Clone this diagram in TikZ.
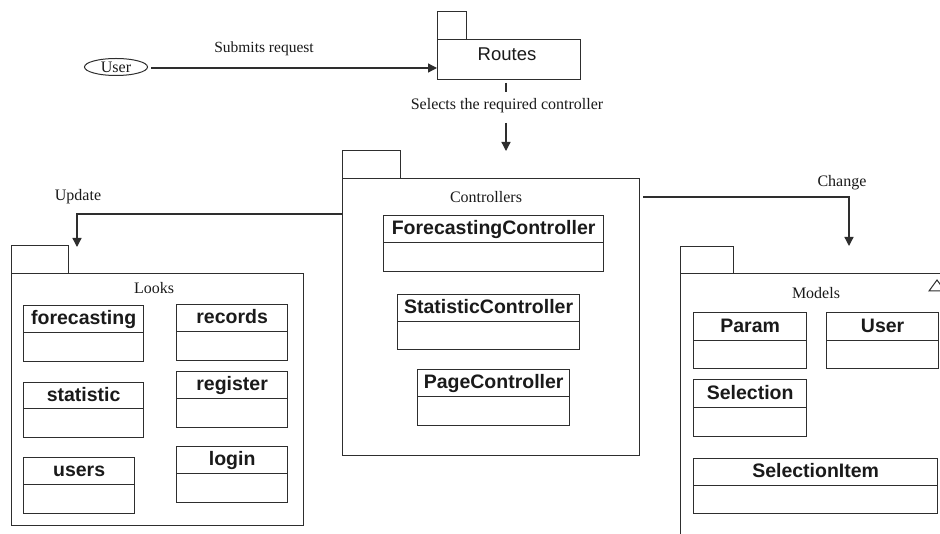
\documentclass[tikz,border=0pt]{standalone}
\usepackage{fontspec}
\setmainfont{Liberation Serif}
\newfontfamily\arialfont{Liberation Sans}
\usetikzlibrary{arrows.meta,shapes.geometric}
\definecolor{lc}{HTML}{2E2E2E}
\definecolor{tc}{HTML}{1A1A1A}
\tikzset{
  ln/.style={draw=lc, line width=1.3pt},
  arr/.style={ln, -{Triangle[width=9pt,length=9pt]}},
  lbl/.style={font=\fontsize{16}{18}\selectfont, text=tc, inner sep=0pt},
  clshead/.style={ln, rectangle, inner sep=0pt, text height=14pt, text depth=3pt,
    font=\arialfont\bfseries\fontsize{19.5}{21}\selectfont, text=tc},
  clsbody/.style={ln, rectangle, inner sep=0pt},
  pkgpart/.style={ln, rectangle, inner sep=0pt},
}
% id, label, x1, x2, ytop, ydiv, ybot
\newcommand\umlcls[7]{%
  \node[clshead, anchor=north west, minimum width={(#4-#3)*1pt}, minimum height={(#6-#5)*1pt}] (#1) at (#3,-#5) {#2};
  \node[clsbody, anchor=north west, minimum width={(#4-#3)*1pt}, minimum height={(#7-#6)*1pt}] (#1-b) at (#3,-#6) {};
}
% id, x1, tabright, tabtop, bodytop, x2, ybot
\newcommand\umlpkg[7]{%
  \node[pkgpart, anchor=north west, minimum width={(#3-#2)*1pt}, minimum height={(#5-#4)*1pt}] (#1-tab) at (#2,-#4) {};
  \node[pkgpart, anchor=north west, minimum width={(#6-#2)*1pt}, minimum height={(#7-#5)*1pt}] (#1) at (#2,-#5) {};
}
\begin{document}
\begin{tikzpicture}[x=1pt,y=1pt]
\clip (0,0) rectangle (940,-534);
\fill[white] (0,0) rectangle (940,-534);

% User
\node[ln, line width=1pt, ellipse, minimum width=63pt, minimum height=17pt, inner sep=0pt] (user) at (116,-67) {};
\node[lbl] (usert) at (116,-67) {User};

% Routes package
\umlpkg{routes}{437}{466}{11}{39}{580}{79}
\node[inner sep=0pt, font=\arialfont\fontsize{18.5}{20}\selectfont, text=tc] (routest) at (507,-54) {Routes};

% Controllers package
\umlpkg{ctrl}{342}{400}{150}{178}{639}{455}
\node[lbl] (ctrlt) at (486,-197) {Controllers};
\umlcls{fc}{ForecastingController}{383}{603}{215}{242}{271}
\umlcls{sc}{StatisticController}{397}{579}{294}{321}{349}
\umlcls{pc}{PageController}{417}{569}{369}{396}{425}

% Looks package
\umlpkg{looks}{11}{68}{245}{273}{303}{525}
\node[lbl] (lookst) at (154,-288) {Looks};
\umlcls{forecasting}{forecasting}{23}{143}{305}{332}{361}
\umlcls{records}{records}{176}{287}{304}{331}{360}
\umlcls{statistic}{statistic}{23}{143}{382}{408}{437}
\umlcls{register}{register}{176}{287}{371}{398}{427}
\umlcls{users}{users}{23}{134}{457}{484}{513}
\umlcls{login}{login}{176}{287}{446}{473}{502}

% Models package (cut off at right and bottom)
\umlpkg{models}{680}{733}{246}{273}{970}{570}
\node[lbl] (modelst) at (816,-293) {Models};
\draw[ln, line width=1pt] (929,-291) -- (937,-280) -- (945,-291) -- cycle;
\umlcls{param}{Param}{693}{806}{312}{340}{368}
\umlcls{muser}{User}{826}{938}{312}{340}{368}
\umlcls{selection}{Selection}{693}{806}{379}{407}{436}
\umlcls{selitem}{SelectionItem}{693}{937}{458}{485}{513}

% coordinates for connectors
\coordinate (userout) at (151,-68);
\coordinate (tick1) at (506,-83);
\coordinate (tick2) at (506,-92);
\coordinate (sel1) at (506,-123);
\coordinate (selin) at (506,-151);
\coordinate (upd0) at (342,-214);
\coordinate (updin) at (77,-247);
\coordinate (chg0) at (643,-197);
\coordinate (chgin) at (849,-246);

% User -> Routes
\node[lbl, font=\fontsize{15.5}{18}\selectfont] (submits) at (264,-49) {Submits request};
\draw[arr] (userout) -- (routes.west |- userout);

% Routes -> Controllers
\node[lbl] (selects) at (507,-106) {Selects the required controller};
\draw[ln] (tick1) -- (tick2);
\draw[arr] (sel1) -- (selin);

% Controllers -> Looks (Update)
\node[lbl] (update) at (78,-197) {Update};
\draw[arr] (upd0) -| (updin);

% Controllers -> Models (Change)
\node[lbl] (change) at (842,-183) {Change};
\draw[arr] (chg0) -| (chgin);
\end{tikzpicture}
\end{document}
